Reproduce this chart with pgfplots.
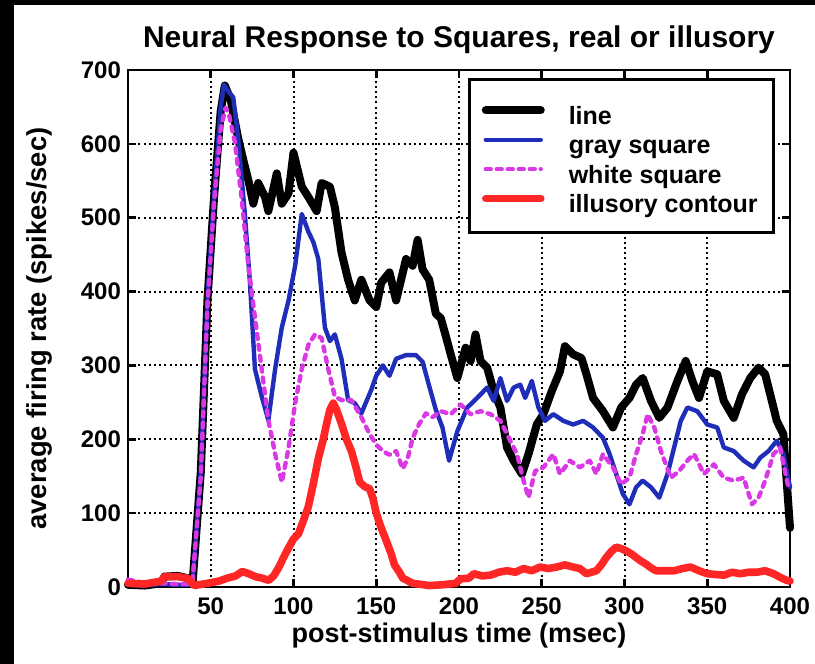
\documentclass[border=0pt]{standalone}
\usepackage{fontspec}
\setmainfont{Liberation Sans}
\usepackage{pgfplots}
\pgfplotsset{compat=1.18}
\definecolor{cblue}{rgb}{0.12,0.18,0.72}
\definecolor{cmag}{rgb}{0.86,0.22,0.9}
\definecolor{cred}{rgb}{1,0.15,0.15}
\begin{document}
\begin{tikzpicture}
\fill[black] (0,0) rectangle (407.5pt,332pt);
\fill[white] (7pt,0) rectangle (407.5pt,329.5pt);
\begin{axis}[
  at={(64pt,38.5pt)}, anchor=south west,
  scale only axis, width=331pt, height=258.5pt,
  xmin=0, xmax=400, ymin=0, ymax=700,
  xtick={50,100,...,400}, ytick={0,100,...,700},
  clip=false,
  axis line style={line width=1.3pt},
  tick style={line width=1.3pt, black},
  major tick length=4pt, tick align=inside,
  xmajorgrids, ymajorgrids,
  major grid style={black, line width=1pt, dash pattern=on 1pt off 1.6pt},
  /pgf/number format/assume math mode=true,
  ticklabel style={font=\fontsize{12}{14}\selectfont\bfseries},
  xticklabel style={anchor=base, yshift=-13.8pt, inner sep=0pt},
  every axis title shift=0pt,
  title={Neural Response to Squares, real or illusory},
  title style={at={(axis description cs:0.5,1.044)}, anchor=base, font=\fontsize{15}{18}\selectfont\bfseries},
  xlabel={post-stimulus time (msec)},
  xlabel style={at={(axis description cs:0.5,0)}, anchor=base, yshift=-28pt, inner sep=0pt, font=\fontsize{13.5}{16}\selectfont\bfseries},
  ylabel={average firing rate (spikes/sec)},
  ylabel style={at={(axis description cs:-0.1224,0.5)}, anchor=base, rotate=0, inner sep=0pt, font=\fontsize{13.7}{16}\selectfont\bfseries},
  legend cell align=left,
  legend image code/.code={\draw[#1] (0pt,0.8pt) -- (27.5pt,0.8pt);},
  legend style={at={(axis description cs:0.514,0.985)}, anchor=north west,
    draw=black, line width=1.5pt, fill=white,
    font=\fontsize{12.5}{15}\selectfont\bfseries,
    inner xsep=6pt, inner ysep=9pt, row sep=0pt, column sep=10pt,
    nodes={text height=12.5pt, text depth=0pt, inner ysep=1.1pt}},
  every axis plot/.append style={line join=round, line cap=round},
]
\addplot[black, line width=4pt] coordinates {
(0,3) (10,2) (20,5) (22,14) (30,15) (36,12) (39,5) (44,156) (48,388) (52,528) (56,644) (58.5,679) (62,660) (66.6,607) (70,575) (72.7,551) (75.7,519) (78.7,547) (82.8,528) (84.8,509) (89.9,560) (92.9,519) (97,533) (100,588) (105,542) (109,528) (114,509) (117,547) (122,542) (125,514) (129,453) (133,416) (137,388) (141,416) (146,388) (150,379) (153,412) (158,426) (162,388) (168,444) (172,435) (175,470) (178,430) (182,416) (186,370) (189,364) (192,340) (195,315) (199,283) (204,324) (207,306) (210,342) (213,306) (217,297) (221,265) (225,243) (229,189) (233,171) (238,153) (242,180) (247,220) (251,234) (256,265) (261,292) (264,326) (269,315) (274,310) (277,288) (281,256) (287,238) (293,216) (298,243) (303,256) (307,274) (311,283) (316,252) (321,229) (326,243) (332,279) (337,306) (341,279) (345,256) (350,292) (356,288) (360,252) (366,229) (371,261) (376,283) (381,297) (385,288) (389,252) (392,225) (396,207) (400,80)
};
\addlegendentry{line}
\addplot[cblue, line width=2.2pt] coordinates {
(0,3) (10,2) (20,4) (30,3) (37,3) (39,5) (44,156) (48,388) (52,528) (56,650) (58,680) (61,670) (63.6,663) (66.6,607) (70.6,505) (73.7,412) (76.7,295) (80.8,258) (84.8,226) (88.9,295) (92.9,351) (97,388) (101,435) (105,505) (109,481) (112,467) (115,444) (119,351) (122,333) (125,342) (129,309) (133,253) (137,249) (141,235) (147,267) (150,286) (154,300) (158,286) (162,309) (168,314) (174,314) (178,305) (182,272) (186,240) (190,216) (194,171) (199,211) (205,243) (211,256) (217,270) (221,252) (225,283) (229,252) (233,270) (237,274) (240,256) (244,279) (248,243) (252,225) (257,234) (263,225) (269,220) (275,225) (281,216) (287,202) (291,180) (295,153) (299,126) (303,112) (307,135) (311,144) (316,135) (321,121) (326,153) (330,189) (334,225) (338,243) (344,238) (350,220) (356,216) (360,189) (366,184) (372,171) (378,162) (382,175) (387,184) (392,198) (396,180) (400,135)
};
\addlegendentry{gray square}
\addplot[cmag, line width=2.2pt, dash pattern=on 2.5pt off 3pt] coordinates {
(0,10) (5,8) (10,5) (20,5) (30,4) (37,4) (39,8) (44,150) (48,380) (52,520) (56,620) (59,649) (61,640) (64.6,602) (68.6,528) (72.7,435) (76.7,365) (80.8,295) (84.8,226) (89,179) (93,142) (97,188) (101,249) (105,295) (109,328) (113,342) (117,337) (121,295) (125,258) (129,253) (135,253) (141,230) (146,207) (150,193) (154,184) (158,179) (162,184) (166,160) (169,174) (172,202) (176,221) (180,235) (184,230) (189,238) (195,234) (201,247) (207,234) (213,238) (219,234) (225,225) (229,207) (235,180) (239,144) (242,121) (246,157) (251,162) (257,180) (261,153) (267,171) (273,162) (279,171) (283,153) (287,180) (293,162) (298,139) (303,148) (307,180) (311,207) (314,234) (318,216) (322,184) (328,148) (333,157) (338,171) (342,180) (348,153) (354,166) (360,148) (366,144) (372,148) (377,112) (381,121) (385,144) (390,180) (394,189) (399,135)
};
\addlegendentry{white square}
\addplot[cred, line width=3.8pt] coordinates {
(0,5) (10,4) (20,8) (22,14) (30,14) (36,12) (40,2) (48,5) (55,8) (60,12) (65,15) (69,21) (73,18) (77,14) (81,12) (85,9) (88,15) (91,26) (94,40) (97,53) (100,65) (103,72) (106,90) (109,109) (112,140) (115,174) (118,200) (120,221) (122,240) (124,249) (126,240) (129,221) (132,200) (135,184) (138,160) (140,142) (143,136) (146,133) (148,120) (150,100) (153,80) (156,63) (159,45) (161,30) (164,20) (166,12) (172,5) (182,2) (190,3) (198,5) (201,11) (206,12) (209,18) (214,15) (219,16) (224,20) (229,22) (234,20) (239,25) (244,22) (249,27) (254,25) (259,27) (264,30) (269,27) (273,25) (277,18) (283,22) (286,30) (289,40) (292,48) (295,54) (298,52) (301,49) (304,45) (307,40) (310,35) (313,31) (316,26) (319,22) (325,22) (330,22) (335,25) (340,27) (345,22) (350,18) (355,17) (360,16) (365,20) (370,18) (375,20) (380,20) (385,22) (390,18) (395,12) (398,9) (400,8)
};
\addlegendentry{illusory contour}
\end{axis}
\end{tikzpicture}
\end{document}
